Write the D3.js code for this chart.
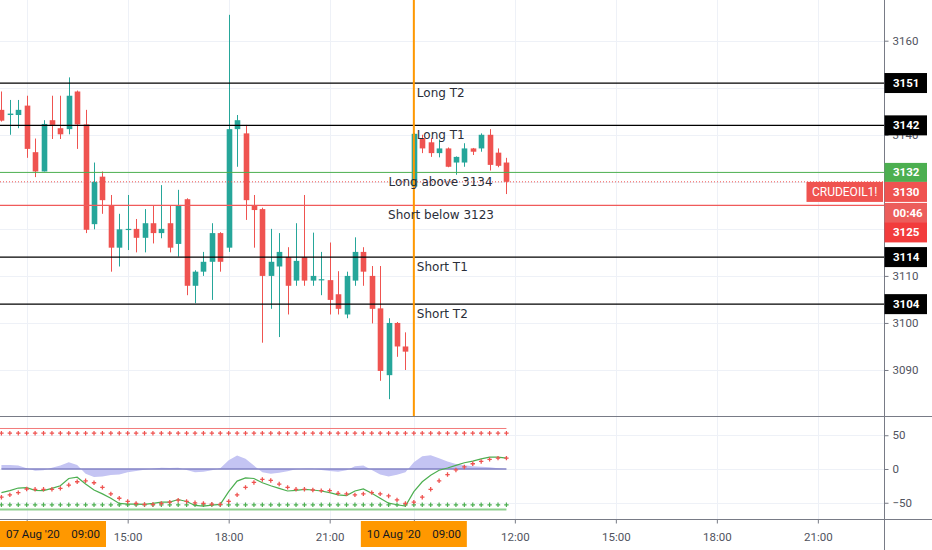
<!DOCTYPE html>
<html>
<head>
<meta charset="utf-8">
<script src="https://d3js.org/d3.v7.min.js"></script>
<style>
body { margin: 0; background: #fff; }
svg { display: block; }
</style>
</head>
<body>
<svg id="chart" width="932" height="550"></svg>
<script>
// 15 min bars, 07 Aug 11:15 .. 23:15, then 10 Aug 09:00 .. 11:45
var opens  = [3145.3,3144.2,3144.2,3146.2,3136.3,3132.2,3143.1,3141.4,3141.2,3149.2,3142.2,3121.0,3131.1,3124.9,3116.0,3119.8,3120.0,3118.1,3121.2,3119.1,3121.2,3116.8,3126.3,3107.9,3110.9,3113.0,3119.1,3116.0,3141.2,3140.3,3124.9,3124.2,3110.0,3112.0,3114.0,3109.0,3114.0,3109.0,3109.1,3109.1,3106.1,3101.8,3109.0,3115.1,3110.0,3103.1,3088.9,3100.0,3095.0,3129.0,3139.3,3138.4,3136.1,3137.1,3134.1,3134.1,3137.1,3137.1,3140.0,3136.2,3134.1];
var highs  = [3149.2,3147.4,3147.4,3148.3,3139.2,3143.1,3148.3,3148.3,3152.2,3149.4,3145.3,3134.1,3132.2,3127.2,3123.2,3127.2,3122.1,3124.2,3124.9,3129.3,3124.9,3128.3,3126.5,3111.2,3115.1,3121.2,3119.3,3165.5,3144.2,3142.1,3127.2,3124.5,3120.0,3119.1,3116.1,3121.2,3127.2,3119.2,3115.1,3117.1,3111.0,3110.9,3118.2,3116.1,3112.1,3112.1,3101.0,3100.2,3098.0,3140.4,3140.0,3139.3,3139.0,3137.3,3135.4,3138.2,3137.2,3140.3,3141.2,3137.1,3135.1];
var lows   = [3142.8,3140.0,3141.4,3135.1,3131.0,3132.2,3139.1,3139.1,3140.1,3137.0,3119.1,3119.9,3123.2,3110.9,3112.0,3115.5,3115.0,3115.0,3116.9,3118.0,3115.0,3114.1,3105.9,3104.2,3110.0,3104.9,3110.9,3115.1,3133.2,3121.9,3116.0,3095.8,3103.0,3097.0,3101.8,3107.9,3107.9,3107.9,3105.9,3101.8,3101.8,3101.0,3107.9,3107.9,3099.9,3087.7,3083.8,3092.8,3090.0,3128.7,3136.1,3135.3,3135.2,3133.1,3131.5,3133.2,3135.7,3136.4,3132.4,3133.1,3127.4];
var closes = [3143.0,3144.5,3145.3,3137.0,3132.2,3142.3,3142.1,3140.1,3148.3,3142.2,3119.8,3130.0,3126.1,3116.0,3119.9,3120.0,3118.1,3121.2,3119.1,3120.0,3116.0,3125.0,3107.9,3110.9,3113.0,3119.1,3113.0,3141.2,3143.1,3126.1,3124.0,3110.0,3113.0,3115.1,3107.9,3113.2,3109.0,3110.0,3109.3,3104.9,3103.0,3110.0,3115.1,3110.9,3103.0,3089.8,3100.0,3095.0,3093.9,3140.2,3137.1,3136.1,3137.1,3133.2,3135.3,3137.1,3136.4,3140.0,3133.6,3133.4,3130.0];

// WaveTrend pane
var wt1 = [-35.0,-32.1,-28.2,-27.7,-31.6,-32.1,-28.7,-24.8,-14.1,-12.1,-22.3,-31.1,-36.9,-43.3,-51.0,-52.0,-52.0,-52.5,-51.0,-49.1,-49.1,-45.2,-48.1,-54.0,-54.9,-53.5,-52.5,-33.5,-17.9,-13.1,-14.1,-20.4,-24.8,-28.7,-32.6,-31.6,-30.1,-31.1,-32.6,-35.0,-38.4,-39.4,-32.6,-29.6,-36.0,-43.3,-50.6,-53.0,-54.9,-33.5,-18.9,-9.2,-1.9,1.5,5.4,9.3,11.7,15.1,17.6,17.6,16.1];
var wt2 = [-41.8,-38.4,-35.0,-29.6,-30.1,-30.1,-30.1,-28.7,-23.8,-18.9,-17.5,-20.4,-27.2,-36.9,-43.3,-48.1,-51.0,-52.5,-52.5,-51.0,-49.1,-46.2,-48.1,-50.1,-51.0,-52.0,-52.5,-48.1,-38.4,-27.2,-19.9,-15.5,-17.0,-22.3,-27.2,-30.1,-30.1,-31.1,-32.1,-32.1,-36.0,-36.9,-38.4,-36.9,-35.0,-36.9,-39.9,-45.7,-51.0,-49.1,-41.8,-30.1,-17.5,-8.2,-1.4,3.0,7.8,11.2,14.2,16.1,16.1];
var wtHist = [6,6,5,1,-2.5,-2,2,5,10,6,-7,-12,-11,-9,-8,-5,-3,-1,0.5,2,1.5,2,-1.5,-5,-4,-2,1,13,20,15,5,-5,-7,-5.5,-3.5,-0.5,0.5,0.5,-1.5,-3,-4,-2,4,5,-1.5,-8,-11,-8.5,-5,10,19,20.5,16,11,7.5,5.5,4.2,3.5,2.5,1,-0.3];
var obLevel1 = 60, obLevel2 = 53, osLevel1 = -60, osLevel2 = -53;

// axes
var tickBars   = [3, 15, 27, 39, 49, 61, 73, 85, 97];
var tickLabels = ["12:00", "15:00", "18:00", "21:00", "10", "12:00", "15:00", "18:00", "21:00"];
var priceGrid  = [3160, 3150, 3140, 3130, 3120, 3110, 3100, 3090];
var priceTicks = [3160, 3140, 3110, 3100, 3090];
var oscTicks   = [50, 0, -50];

// drawings
var targetPrices = [3151, 3142, 3114, 3104];
var targetTexts  = ["Long T2", "Long T1", "Short T1", "Short T2"];
var longPrice = 3132, longText = "Long above 3134";
var shortPrice = 3125, shortText = "Short below 3123";
var lastPrice = 3130, countdown = "00:46", symbolName = "CRUDEOIL1!";
var markerBars   = [-9, 49];
var markerDates  = ["07 Aug '20", "10 Aug '20"];
var markerTimes  = ["09:00", "09:00"];

var W = 932, H = 550, plotR = 884;
var paneTop = 0, paneSplit = 416, paneBottom = 519;
var upColor = "#26a69a", downColor = "#ef5350";
var axisFont = "Roboto, 'Liberation Sans', sans-serif";
var textFont = "'DejaVu Sans', Verdana, sans-serif";
var markerW = 106;

var svg = d3.select("#chart");

var x = d3.scaleLinear().domain([-0.17, 104.86]).range([0, plotR]);
var yP = d3.scaleLinear().domain([3080.22, 3168.65]).range([paneSplit, paneTop]);
var yO = d3.scaleLinear().domain([-74.07, 78.5]).range([paneBottom, paneSplit]);

svg.append("rect").attr("width", W).attr("height", H).attr("fill", "#fff");

var defs = svg.append("defs");
defs.append("clipPath").attr("id", "clipP").append("rect")
    .attr("x", 0).attr("y", paneTop).attr("width", plotR).attr("height", paneSplit - paneTop);
defs.append("clipPath").attr("id", "clipO").append("rect")
    .attr("x", 0).attr("y", paneSplit).attr("width", plotR).attr("height", paneBottom - paneSplit);

// left edge of a time marker box (clamped into the plot)
function markerLeft(b) {
    return Math.max(0, x(b) - markerW / 2);
}

// grid
var grid = svg.append("g").attr("stroke", "#eef1f7").attr("stroke-width", 1);
tickBars.forEach(function (b) {
    grid.append("line")
        .attr("x1", Math.round(x(b)) + 0.5).attr("x2", Math.round(x(b)) + 0.5)
        .attr("y1", 0).attr("y2", paneBottom);
});
priceGrid.forEach(function (p) {
    grid.append("line").attr("x1", 0).attr("x2", plotR)
        .attr("y1", Math.round(yP(p)) + 0.5).attr("y2", Math.round(yP(p)) + 0.5);
});
oscTicks.forEach(function (v) {
    grid.append("line").attr("x1", 0).attr("x2", plotR)
        .attr("y1", Math.round(yO(v)) + 0.5).attr("y2", Math.round(yO(v)) + 0.5);
});

// price pane
var pp = svg.append("g").attr("clip-path", "url(#clipP)");

var bars = opens.map(function (o, i) {
    return { i: i, o: o, h: highs[i], l: lows[i], c: closes[i] };
});

var candle = pp.selectAll("g.bar").data(bars).enter().append("g").attr("class", "bar");
candle.append("line")
    .attr("x1", function (d) { return Math.round(x(d.i)) + 0.5; })
    .attr("x2", function (d) { return Math.round(x(d.i)) + 0.5; })
    .attr("y1", function (d) { return yP(d.h); })
    .attr("y2", function (d) { return yP(d.l); })
    .attr("stroke", function (d) { return d.c >= d.o ? upColor : downColor; })
    .attr("stroke-width", 1);
candle.append("rect")
    .attr("x", function (d) { return Math.round(x(d.i)) + 0.5 - 2.8; })
    .attr("width", 5.6)
    .attr("y", function (d) { return yP(Math.max(d.o, d.c)); })
    .attr("height", function (d) { return Math.max(1.2, Math.abs(yP(d.o) - yP(d.c))); })
    .attr("fill", function (d) { return d.c >= d.o ? upColor : downColor; });

// horizontal drawings
targetPrices.forEach(function (p) {
    pp.append("line").attr("x1", 0).attr("x2", plotR)
        .attr("y1", yP(p)).attr("y2", yP(p))
        .attr("stroke", "#000").attr("stroke-width", 1.2);
});
pp.append("line").attr("x1", 0).attr("x2", plotR)
    .attr("y1", yP(longPrice)).attr("y2", yP(longPrice))
    .attr("stroke", "#4caf50").attr("stroke-width", 1);
pp.append("line").attr("x1", 0).attr("x2", plotR)
    .attr("y1", yP(shortPrice)).attr("y2", yP(shortPrice))
    .attr("stroke", "#f05a5a").attr("stroke-width", 1.2);
pp.append("line").attr("x1", 0).attr("x2", plotR)
    .attr("y1", yP(lastPrice)).attr("y2", yP(lastPrice))
    .attr("stroke", "#ef5350").attr("stroke-width", 1).attr("stroke-dasharray", "1,2");

// vertical marker on 10 Aug 09:00
pp.append("line")
    .attr("x1", x(markerBars[1])).attr("x2", x(markerBars[1]))
    .attr("y1", 0).attr("y2", paneSplit)
    .attr("stroke", "#ff9800").attr("stroke-width", 2);

// drawing texts
var txt = svg.append("g").attr("font-family", textFont).attr("font-size", 12).attr("fill", "#2a2e39");
targetPrices.forEach(function (p, k) {
    txt.append("text").attr("x", x(49) + 3).attr("y", yP(p) + 9.5)
        .attr("dominant-baseline", "central").text(targetTexts[k]);
});
txt.append("text").attr("x", x(46)).attr("y", yP(longPrice) + 9.8)
    .attr("dominant-baseline", "central").text(longText);
txt.append("text").attr("x", x(46) - 0.5).attr("y", yP(shortPrice) + 9.8)
    .attr("dominant-baseline", "central").text(shortText);

// oscillator pane
var op = svg.append("g").attr("clip-path", "url(#clipO)");

op.append("path").datum(wtHist)
    .attr("d", d3.area()
        .x(function (d, i) { return x(i); })
        .y0(yO(0))
        .y1(function (d) { return yO(d); }))
    .attr("fill", "#c4c4f3");

op.append("line").attr("x1", x(0)).attr("x2", x(wt1.length - 1))
    .attr("y1", yO(0)).attr("y2", yO(0))
    .attr("stroke", "#8282c4").attr("stroke-width", 1.6);
op.append("line").attr("x1", 0).attr("x2", x(wt1.length - 1))
    .attr("y1", yO(obLevel1)).attr("y2", yO(obLevel1))
    .attr("stroke", "#f27b7b").attr("stroke-width", 1);
op.append("line").attr("x1", 0).attr("x2", x(wt1.length - 1))
    .attr("y1", yO(osLevel1)).attr("y2", yO(osLevel1))
    .attr("stroke", "#8fd08f").attr("stroke-width", 2);

function crossPath(cx, cy) {
    return "M" + (cx - 2.2) + "," + cy + "h4.4M" + cx + "," + (cy - 2.2) + "v4.4";
}
op.append("path")
    .attr("d", wt1.map(function (d, i) { return crossPath(x(i), yO(obLevel2)); }).join(""))
    .attr("stroke", "#ef5350").attr("stroke-width", 1.2).attr("fill", "none");
op.append("path")
    .attr("d", wt1.map(function (d, i) { return crossPath(x(i), yO(osLevel2)); }).join(""))
    .attr("stroke", "#4caf50").attr("stroke-width", 1.2).attr("fill", "none");

op.append("path").datum(wt1)
    .attr("d", d3.line().x(function (d, i) { return x(i); }).y(function (d) { return yO(d); }))
    .attr("fill", "none").attr("stroke", "#4caf50").attr("stroke-width", 1.2);
op.append("path")
    .attr("d", wt2.map(function (d, i) { return crossPath(x(i), yO(d)); }).join(""))
    .attr("stroke", "#ef5350").attr("stroke-width", 1.3).attr("fill", "none");

// frame lines
var frame = svg.append("g").attr("stroke", "#787b86").attr("stroke-width", 1);
frame.append("line").attr("x1", plotR + 0.5).attr("x2", plotR + 0.5).attr("y1", 0).attr("y2", H);
frame.append("line").attr("x1", 0).attr("x2", W).attr("y1", paneSplit + 0.5).attr("y2", paneSplit + 0.5);
frame.append("line").attr("x1", 0).attr("x2", W).attr("y1", paneBottom + 0.5).attr("y2", paneBottom + 0.5);

// axes
function styleAxis(g) {
    g.select(".domain").remove();
    g.selectAll(".tick line").attr("stroke", "#787b86");
    g.selectAll(".tick text").attr("fill", "#50535e").attr("font-family", axisFont).attr("font-size", 11.5);
}
svg.append("g").attr("transform", "translate(" + (plotR + 0.5) + ",0)")
    .call(d3.axisRight(yP).tickValues(priceTicks).tickSize(4).tickPadding(4).tickFormat(d3.format("d")))
    .call(styleAxis);
svg.append("g").attr("transform", "translate(" + (plotR + 0.5) + ",0)")
    .call(d3.axisRight(yO).tickValues(oscTicks).tickSize(4).tickPadding(4).tickFormat(function (d) { return d < 0 ? "\u2212" + (-d) : d; }))
    .call(styleAxis);

// time labels that sit under a marker box are hidden, as on the chart
function underMarker(b) {
    return markerBars.some(function (m) {
        var l = markerLeft(m);
        return x(b) >= l - 10 && x(b) <= l + markerW + 10;
    });
}
svg.append("g").attr("transform", "translate(0," + (paneBottom + 0.5) + ")")
    .call(d3.axisBottom(x).tickValues(tickBars).tickSize(4).tickPadding(9)
        .tickFormat(function (d, i) { return underMarker(d) ? "" : tickLabels[i]; }))
    .call(styleAxis);

// price labels on the axis
function axisLabel(top, h, color, label) {
    svg.append("rect").attr("x", plotR + 0.5).attr("y", top).attr("width", 42.5).attr("height", h).attr("fill", color);
    svg.append("text").attr("x", plotR + 9).attr("y", top + h / 2)
        .attr("dominant-baseline", "central")
        .attr("font-family", axisFont).attr("font-size", 11.5).attr("font-weight", "bold")
        .attr("fill", "#fff").text(label);
}
targetPrices.forEach(function (p) {
    axisLabel(yP(p) - 10, 20, "#000", p);
});
var gTop = yP(longPrice) - 9.5;
axisLabel(gTop, 19, "#4caf50", longPrice);
var lastTop = gTop + 19;
axisLabel(lastTop, 20, "#ef5350", lastPrice);
var cdTop = lastTop + 21;
axisLabel(cdTop, 20, "#ec5d5b", countdown);
axisLabel(cdTop + 19.5, 20, "#f23c3c", shortPrice);

// symbol tag
svg.append("rect").attr("x", 806.5).attr("y", lastTop).attr("width", 76.5).attr("height", 20).attr("fill", "#ef5350");
svg.append("text").attr("x", 844.7).attr("y", lastTop + 10).attr("text-anchor", "middle")
    .attr("dominant-baseline", "central").attr("font-family", axisFont).attr("font-size", 12)
    .attr("fill", "#fff").text(symbolName);

// time marker boxes on the time axis
markerBars.forEach(function (b, k) {
    var left = markerLeft(b);
    svg.append("rect").attr("x", left).attr("y", 521).attr("width", markerW).attr("height", 26).attr("fill", "#ff9800");
    svg.append("text").attr("x", left + 6).attr("y", 534).attr("dominant-baseline", "central")
        .attr("font-family", axisFont).attr("font-size", 11.5).attr("fill", "#131722").text(markerDates[k]);
    svg.append("text").attr("x", left + 100).attr("y", 534).attr("text-anchor", "end").attr("dominant-baseline", "central")
        .attr("font-family", axisFont).attr("font-size", 11.5).attr("fill", "#131722").text(markerTimes[k]);
});
</script>
</body>
</html>
